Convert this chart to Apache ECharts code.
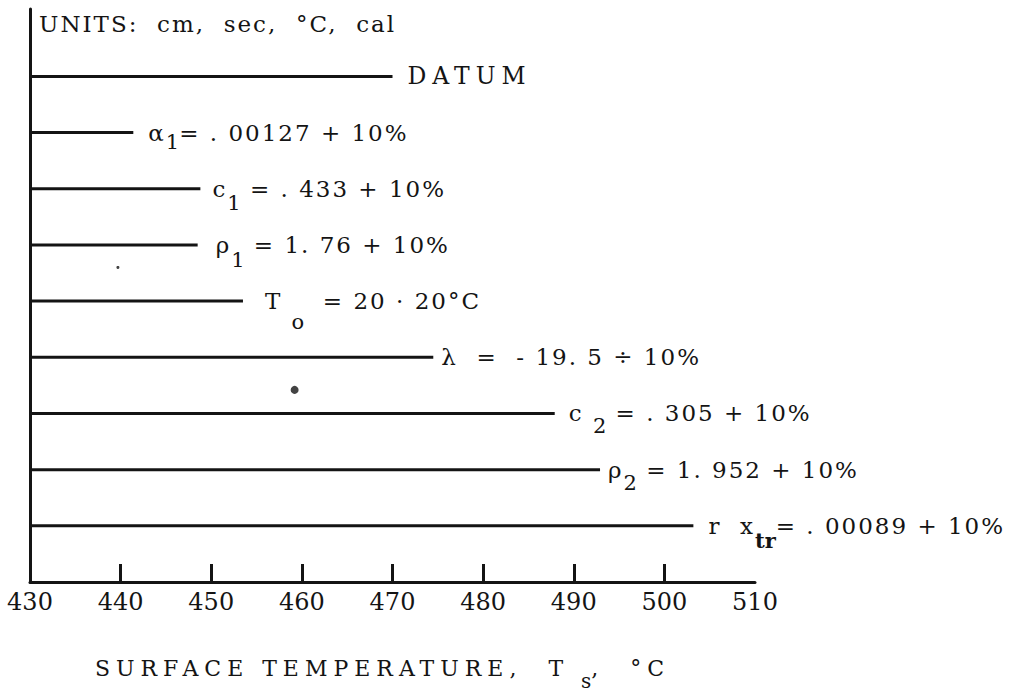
<!DOCTYPE html>
<html><head><meta charset="utf-8">
<script src="https://cdn.jsdelivr.net/npm/echarts@6/dist/echarts.min.js"></script>
<style>
html,body{margin:0;padding:0;background:#fff;}
#chart{width:1009px;height:694px;}
#chart svg text{white-space:pre;}
#chart svg text[style*="23px"]{letter-spacing:2px;}
#chart svg text[style*="23.5px"]{letter-spacing:6px;}
#chart svg text[style*="22px"]{letter-spacing:6px;}
</style></head><body><div id="chart"></div>
<script>
// ---- data ----
const unitsText = 'UNITS:  cm,  sec,  °C,  cal';
const xTicks = [430, 440, 450, 460, 470, 480, 490, 500, 510];
const paramNames = ['DATUM', 'α1', 'c1', 'ρ1', 'T0', 'λ', 'c2', 'ρ2', 'r xtr'];
const rowIndex = [1, 2, 3, 4, 5, 6, 7, 8, 9];
const tempEnd = [470.0, 441.4, 448.8, 448.5, 453.5, 474.5, 487.9, 492.9, 503.2];
const labelHead = ['DATUM', 'α', 'c', 'ρ', 'T ', 'λ  =  - 19. 5 ÷ 10%', 'c ', 'ρ', 'r  x'];
const labelSub = ['', '1', '1', '1', 'o', '', '2', '2', 'tr'];
const labelTail = ['', '= . 00127 + 10%', ' = . 433 + 10%', ' = 1. 76 + 10%', '  = 20 · 20°C', '', ' = . 305 + 10%', ' = 1. 952 + 10%', '= . 00089 + 10%'];
const axisNameHead = 'SURFACE TEMPERATURE,  T';
const axisNameSub = 's';
const axisNameTail = ',  °C';
const speckX = [459.2, 439.7];
const speckRow = [6.58, 4.40];

// ---- styling ----
const FONT = '"DejaVu Serif", "Liberation Serif", serif';
const INK = '#141414';
const LS = 2;      // css letter spacing for 23px text
const NLS = 6;     // css letter spacing for 22px text
const labelGap = [15, 15, 12, 18, 22, 8, 14, 8, 15];
const subDrop = [0, 9, 14, 15, 21, 0, 13, 13, 15];

const series = paramNames.map((name, i) => {
  const head = labelHead[i], sub = labelSub[i], tail = labelTail[i];
  const mainStyle = i === 0 ? 'd' : 'm';
  const fmt = sub ? '{m|' + head + '}{s|' + sub + '}{m|' + tail + '}' : '{' + mainStyle + '|' + head + '}';
  return {
    type: 'line', name: name, symbol: 'none', silent: true, animation: false,
    data: [[xTicks[0], rowIndex[i]], [tempEnd[i], rowIndex[i]]],
    lineStyle: { color: INK, width: 3, cap: 'butt' },
    endLabel: {
      show: true, distance: labelGap[i], formatter: fmt, color: INK,
      rich: {
        m: { fontFamily: FONT, fontSize: 23, color: INK, align: 'left' },
        d: { fontFamily: FONT, fontSize: 23.5, color: INK, align: 'left' },
        s: { fontFamily: FONT, fontSize: 21, color: INK, align: 'left',
             fontWeight: i === 8 ? 'bold' : 'normal',
             padding: [2 * subDrop[i], 0, 0, head.length * LS] }
      }
    }
  };
});

series.push({
  type: 'scatter', silent: true, animation: false,
  data: speckX.map((x, i) => [x, speckRow[i]]),
  symbolSize: (v, p) => (p.dataIndex === 0 ? 8 : 3),
  itemStyle: { color: INK }
});

const chart = echarts.init(document.getElementById('chart'), null, { renderer: 'svg', width: 1009, height: 694 });
chart.setOption({
  backgroundColor: '#ffffff',
  animation: false,
  title: {
    text: unitsText, left: 34, top: 7,
    textStyle: { fontFamily: FONT, fontSize: 23, fontWeight: 'normal', color: INK }
  },
  grid: { left: 30, right: 254, top: 9, bottom: 112, outerBoundsMode: 'none' },
  xAxis: {
    type: 'value', min: xTicks[0], max: xTicks[xTicks.length - 1], interval: 10,
    axisLine: { onZero: false, lineStyle: { color: INK, width: 3 } },
    axisTick: { inside: true, length: 18, lineStyle: { color: INK, width: 3 },
                customValues: xTicks.slice(1, -1) },
    axisLabel: { margin: 8, fontFamily: FONT, fontSize: 24, color: INK,
                 customValues: xTicks },
    splitLine: { show: false },
    name: '{n|' + axisNameHead + '}{ns|' + axisNameSub + '}{n|' + axisNameTail + '}',
    nameLocation: 'middle', nameGap: 63,
    nameTextStyle: {
      color: INK,
      padding: [0, 50, 0, 0],
      rich: {
        n: { fontFamily: FONT, fontSize: 22, color: INK, align: 'left' },
        ns: { fontFamily: FONT, fontSize: 20, color: INK, align: 'left',
              padding: [26, 0, 0, axisNameHead.length * NLS + 12] }
      }
    }
  },
  yAxis: {
    type: 'value', inverse: true, min: -0.2, max: 10,
    axisLine: { show: true, onZero: false, lineStyle: { color: INK, width: 3 } },
    axisTick: { show: false }, axisLabel: { show: false }, splitLine: { show: false }
  },
  series: series
});
</script></body></html>
